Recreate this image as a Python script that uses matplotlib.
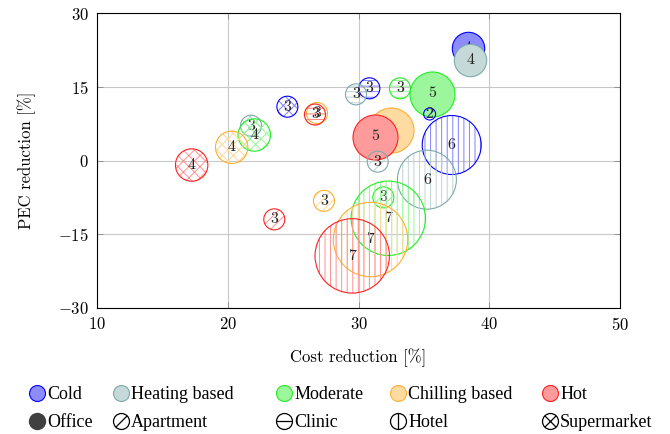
"""
Bubble chart: cost reduction vs. PEC reduction by climate and building type.
"""

import matplotlib

matplotlib.use("Agg")
import matplotlib.pyplot as plt
import numpy as np
from matplotlib.lines import Line2D
from matplotlib.path import Path

# Climate / building categories
climates = ["Cold", "Heating based", "Moderate", "Chilling based", "Hot"]
buildings = ["Office", "Apartment", "Clinic", "Hotel", "Supermarket"]

# One entry per bubble (drawing order matters)
cost_reduction = [
    38.36, 38.56, 35.61, 32.45, 31.26,   # Office
    35.44, 31.47, 31.90, 27.36, 23.56,   # Apartment
    30.83, 29.81, 33.17, 26.83, 26.67,   # Clinic
    37.13, 35.23, 32.28, 30.92, 29.52,   # Hotel
    24.56, 21.78, 22.03, 20.30, 17.24,   # Supermarket
]
pec_reduction = [
    22.9, 20.5, 13.6, 6.25, 4.86,
    9.46, -0.24, -7.5, -8.2, -11.97,
    14.68, 13.46, 14.68, 9.66, 9.35,
    3.15, -3.9, -11.75, -16.07, -19.4,
    10.94, 7.08, 5.19, 2.68, -0.92,
]
bubble_value = [
    4, 4, 5, 5, 5,
    2, 3, 3, 3, 3,
    3, 3, 3, 3, 3,
    6, 6, 7, 7, 7,
    3, 3, 4, 4, 4,
]
bubble_climate = [0, 1, 2, 3, 4] * 5
bubble_building = [0] * 5 + [1] * 5 + [2] * 5 + [3] * 5 + [4] * 5

# Styling
climate_colors = ["#0000ff", "#7daaaa", "#22ee22", "#ffb030", "#ff2020"]
hatches = [None, "///", "---", "|||", "xxx"]
radius_px = {2: 6.0, 3: 10.5, 4: 16.2, 5: 22.5, 6: 29.5, 7: 37.2}
px2pt = 0.72

plt.rcParams["font.family"] = "cmr10"
plt.rcParams["mathtext.fontset"] = "cm"
plt.rcParams["axes.formatter.use_mathtext"] = True
plt.rcParams["hatch.linewidth"] = 0.7


def lighten(color, amount):
    rgb = np.array(matplotlib.colors.to_rgb(color))
    return tuple(1 - amount * (1 - rgb))


fig = plt.figure(figsize=(6.70, 4.34), dpi=100)
ax = fig.add_axes([97 / 670, 1 - 308 / 434, 523 / 670, 295 / 434])

z = 3
for x, y, val, c, b in zip(
    cost_reduction, pec_reduction, bubble_value, bubble_climate, bubble_building
):
    color = climate_colors[c]
    s = (2 * radius_px[val] * px2pt) ** 2
    if b == 0:
        ax.scatter(
            x, y, s=s, facecolor=lighten(color, 0.45), edgecolor=color,
            linewidths=0.8, zorder=z,
        )
    else:
        ax.scatter(
            x, y, s=s, facecolor="none", edgecolor=lighten(color, 0.5),
            linewidths=0, hatch=hatches[b], zorder=z,
        )
        ax.scatter(
            x, y, s=s, facecolor="none", edgecolor=color, linewidths=0.8,
            zorder=z + 0.1,
        )
    ax.text(x, y, str(val), ha="center", va="center", fontsize=11.5,
            color="#222222", zorder=z + 0.2)
    z += 1

ax.set_xlim(10, 50)
ax.set_ylim(-30, 30)
ax.set_xticks([10, 20, 30, 40, 50])
ax.set_yticks([-30, -15, 0, 15, 30])
ax.grid(True, color="#c8c8c8", linewidth=0.8, zorder=0)
ax.set_axisbelow(True)
ax.tick_params(direction="in", length=4, width=0.6, color="#888888",
               labelsize=12, top=True, right=True, pad=6)
for sp in ax.spines.values():
    sp.set_linewidth(0.8)
ax.set_xlabel("Cost reduction [%]", fontsize=12, labelpad=11)
ax.set_ylabel("PEC reduction [%]", fontsize=12, labelpad=16)


# Legend symbols
def circle_with_lines(segments):
    circ = Path.unit_circle()
    verts = list(circ.vertices)
    codes = list(circ.codes)
    for (x0, y0), (x1, y1) in segments:
        verts += [(x0, y0), (x1, y1)]
        codes += [Path.MOVETO, Path.LINETO]
    return Path(verts, codes)


d = 0.7071
building_markers = [
    "o",
    circle_with_lines([((-d, -d), (d, d))]),
    circle_with_lines([((-1, 0), (1, 0))]),
    circle_with_lines([((0, -1), (0, 1))]),
    circle_with_lines([((-d, -d), (d, d)), ((-d, d), (d, -d))]),
]

legend_x = [37, 121, 284, 398, 550]
for i in range(5):
    h_clim = Line2D([], [], linestyle="none", marker="o", markersize=11.5,
                    markerfacecolor=lighten(climate_colors[i], 0.45),
                    markeredgecolor=climate_colors[i], markeredgewidth=0.8)
    if i == 0:
        h_bld = Line2D([], [], linestyle="none", marker="o", markersize=11.5,
                       markerfacecolor="#404040", markeredgecolor="#404040")
    else:
        h_bld = Line2D([], [], linestyle="none", marker=building_markers[i],
                       markersize=11.5, markerfacecolor="none",
                       markeredgecolor="black", markeredgewidth=0.9)
    fig.legend(
        [h_clim, h_bld], [climates[i], buildings[i]],
        loc="upper left",
        bbox_to_anchor=((legend_x[i] - 8) / 670, 1 - 386 / 434),
        frameon=False, borderpad=0, borderaxespad=0,
        handlelength=0.9, handletextpad=0.1, labelspacing=0.62,
        prop={"family": "Liberation Serif", "size": 13},
    )

fig.savefig("out.png", dpi=100)
